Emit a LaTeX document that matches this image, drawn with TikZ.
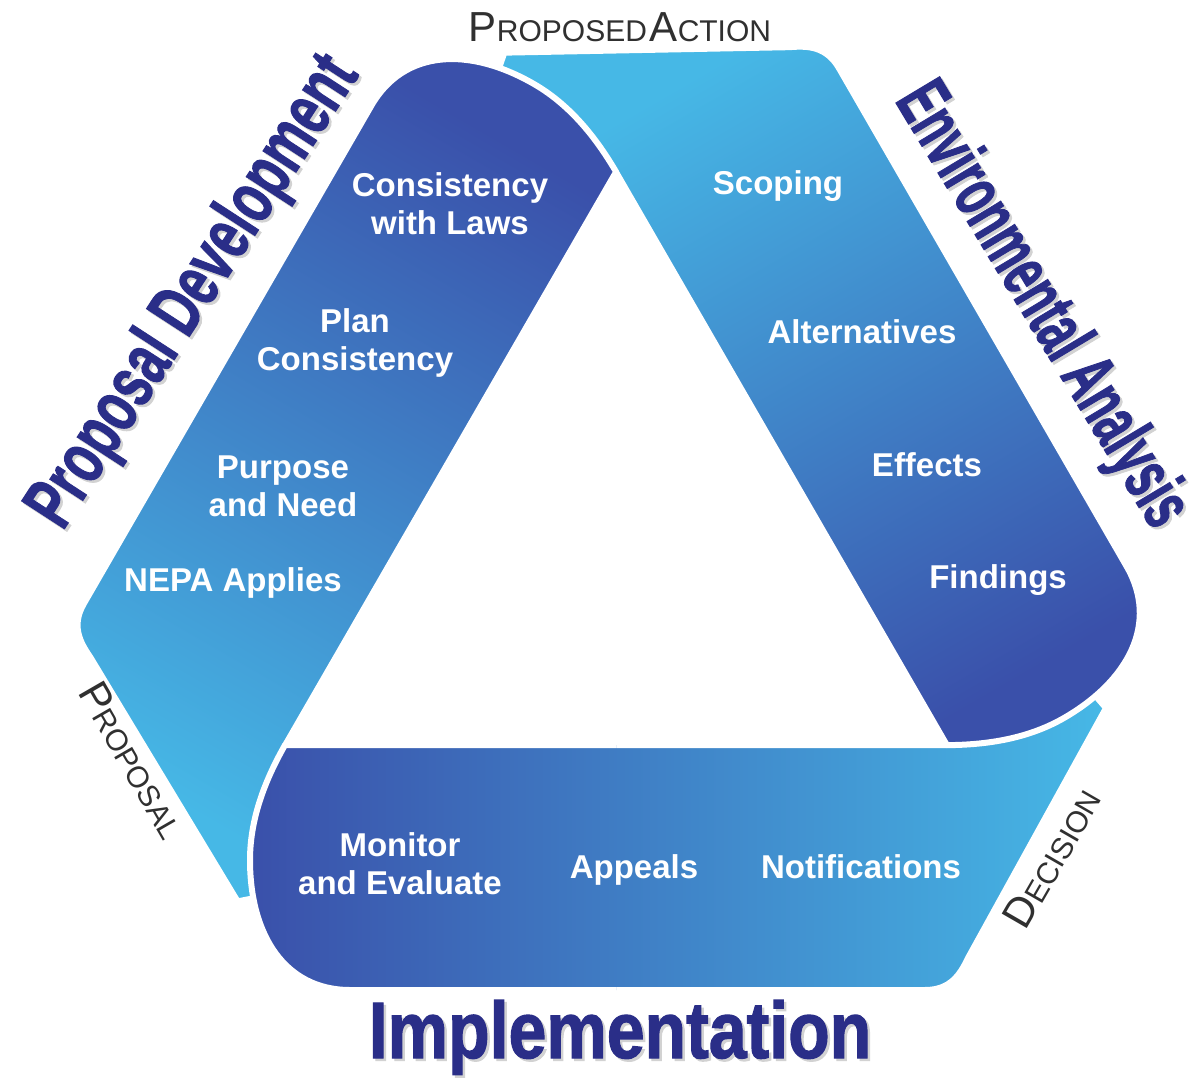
\documentclass[tikz,border=0pt]{standalone}
\usepackage{fontspec}
\setmainfont{Liberation Sans}
\newfontfamily\headfont{Liberation Sans}[BoldFeatures={FakeBold=1.6}]
\usepackage{graphicx}

\definecolor{banddark}{RGB}{58,80,170}
\definecolor{bandlight}{RGB}{70,184,230}
\definecolor{headblue}{RGB}{42,46,136}
\definecolor{stagegray}{RGB}{48,48,48}

\newcommand{\bandpath}{(285,745) -- (947,745) -- (1000,700) -- (1080,678) -- (1106,708) -- (968,958) .. controls (960,975) and (950,990) .. (925,990) -- (350,990) .. controls (285,990) and (250,935) .. (250,860) .. controls (250,815) and (268,775) .. (285,745) -- cycle}
\newcommand{\smallcap}[2]{{\fontsize{42}{42}\selectfont #1}{\fontsize{30}{30}\selectfont #2}}
\newcommand{\narrow}[3]{{\fontsize{#2}{#2}\selectfont\scalebox{#1}[1]{#3}}}

\begin{document}
\begin{tikzpicture}[x=1pt, y=-1pt,
  band/.style={top color=banddark, bottom color=bandlight, draw=white, line width=6pt, line join=round},
  item/.style={text=white, font=\fontsize{33}{38}\selectfont\bfseries, align=center},
  phase/.style={text=headblue, font=\headfont\bfseries, inner sep=0pt, anchor=base},
  phase shadow/.style={xshift=2.5pt, yshift=-2.5pt, phase, text=gray!35},
  stage/.style={text=stagegray, inner sep=0pt}]
\useasboundingbox[fill=white] (0,0) rectangle (1203,1081);

\foreach \turn/\shade in {0/90, 120/-150, -120/-30}
  \path[band, shading angle=\shade, rotate around={\turn:(616,554)}] \bandpath;
\begin{scope}
  \clip (0,0) rectangle (616,1081);
  \path[band, shading angle=90] \bandpath;
\end{scope}

\node[item] (laws) at (450,204) {Consistency\\with Laws};
\node[item] (plan) at (355,343) {Plan\\Consistency};
\node[item] (purpose) at (283,486) {Purpose\\and Need};
\node[item] (nepa) at (233,583) {NEPA Applies};

\node[item] (scoping) at (778,186) {Scoping};
\node[item] (alternatives) at (862,332) {Alternatives};
\node[item] (effects) at (927,465) {Effects};
\node[item] (findings) at (998,580) {Findings};

\node[item] (monitor) at (400,864) {Monitor\\and Evaluate};
\node[item] (appeals) at (634,870) {Appeals};
\node[item] (notifications) at (861,867) {Notifications};

\node[phase shadow, rotate=57] (development shadow) at (211,303) {\narrow{0.68}{74}{Proposal Development}};
\node[phase, rotate=57] (development) at (211,303) {\narrow{0.68}{74}{Proposal Development}};
\node[phase shadow, rotate=-59] (analysis shadow) at (1024,316) {\narrow{0.6}{74}{Environmental Analysis}};
\node[phase, rotate=-59] (analysis) at (1024,316) {\narrow{0.6}{74}{Environmental Analysis}};
\node[phase shadow] (implementation shadow) at (620,1058) {\narrow{0.85}{80}{Implementation}};
\node[phase] (implementation) at (620,1058) {\narrow{0.85}{80}{Implementation}};

\node[stage] (action) at (620,27) {\smallcap{P}{ROPOSED} \smallcap{A}{CTION}};
\node[stage, rotate=-60] (proposal) at (133,760) {\smallcap{P}{ROPOSAL}};
\node[stage, rotate=60] (decision) at (1052,858) {\smallcap{D}{ECISION}};
\end{tikzpicture}
\end{document}
